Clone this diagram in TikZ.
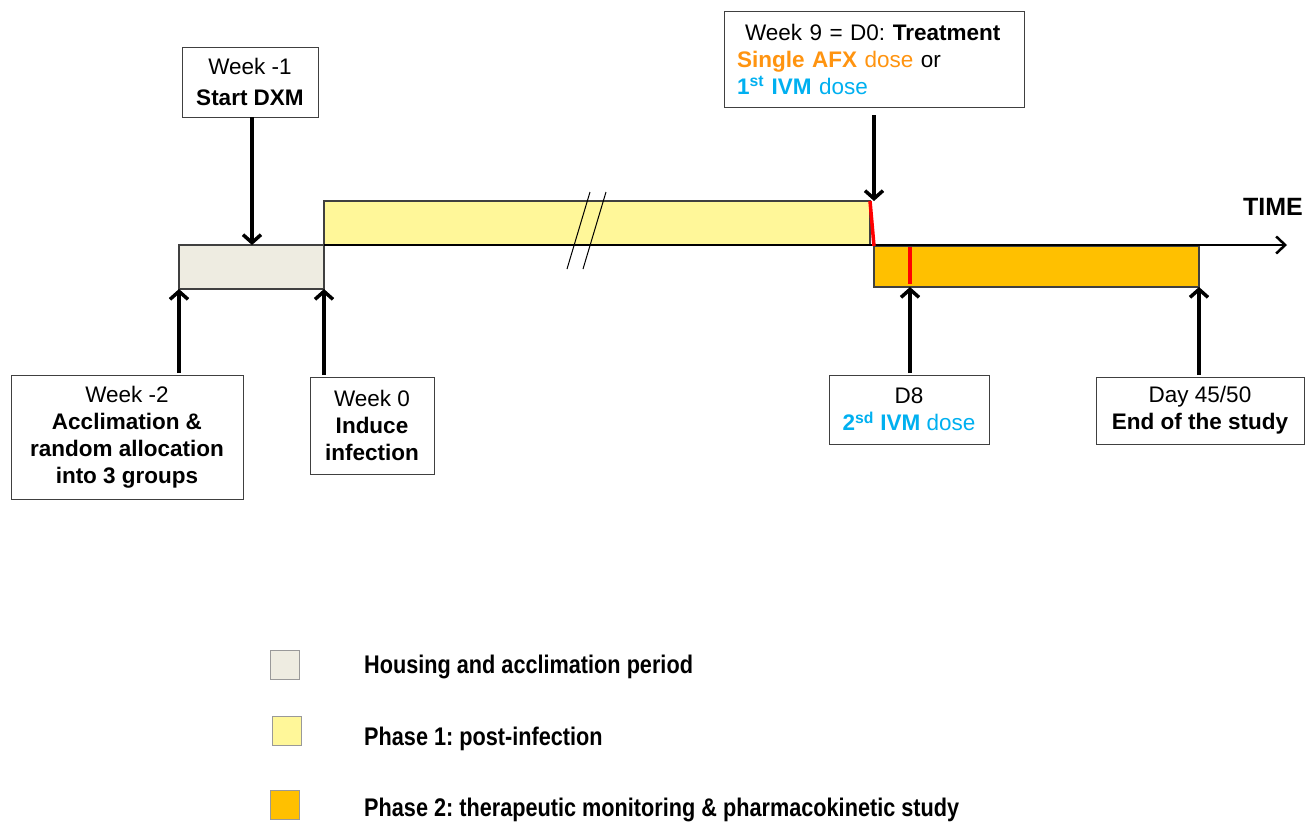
\documentclass[tikz,border=0pt]{standalone}
\usepackage{fontspec}
\setmainfont{Liberation Sans}
\newfontfamily\narrowfont[FakeStretch=0.85]{Liberation Sans}
\usetikzlibrary{arrows.meta}
\definecolor{grayfill}{HTML}{EEECE1}
\definecolor{yelfill}{HTML}{FFF799}
\definecolor{orgfill}{HTML}{FFC000}
\definecolor{orgtxt}{HTML}{FF9410}
\definecolor{bluetxt}{HTML}{00B0F0}
\definecolor{bordergray}{HTML}{404040}
\frenchspacing
\begin{document}
\begin{tikzpicture}[x=1pt,y=-1pt,
  box/.style={draw=bordergray, line width=1pt, fill=white, inner sep=0pt, outer sep=0pt, align=center, font=\frenchspacing\fontsize{22.5}{27}\selectfont},
  bar/.style={draw=bordergray, line width=1.2pt, inner sep=0pt, outer sep=0pt},
  arr/.style={line width=3.5pt, -{Straight Barb[length=8pt,width=18pt,line width=3.5pt]}},
  axisarr/.style={line width=2pt, -{Straight Barb[length=9pt,width=17pt,line width=2.5pt]}},
  redmark/.style={red, line width=3.5pt},
  legsq/.style={draw=gray!80, line width=1pt, minimum size=29pt, inner sep=0pt},
  legtxt/.style={anchor=west, inner sep=0pt, font=\frenchspacing\narrowfont\bfseries\fontsize{25.5}{30}\selectfont},
]
\useasboundingbox (0,0) rectangle (1312,825);

% period bars
\node[bar, fill=grayfill, minimum width=145pt, minimum height=44pt] (gray) at (251.5,267) {};
\node[bar, fill=yelfill, minimum width=546pt, minimum height=44pt] (yellow) at (597,223) {};
\node[bar, fill=orgfill, minimum width=325pt, minimum height=41pt] (orange) at (1036.5,266.5) {};

% time axis
\coordinate (axisend) at (1287,245);
\draw[axisarr] (yellow.south west) -- (axisend);
\node[font=\bfseries\fontsize{25}{30}\selectfont, inner sep=0pt] (time) at (1273,207) {TIME};

% break marks
\draw[line width=1pt] (590,192) -- (567,269);
\draw[line width=1pt] (606,192) -- (583,269);

% red marks
\draw[redmark] (yellow.north east) -- (orange.north west);
\coordinate (d8top) at (910,247);
\coordinate (d8bot) at (910,284);
\draw[redmark] (d8top) -- (d8bot);

% boxes
\node[box, minimum width=136pt, minimum height=70pt, font=\frenchspacing\fontsize{22.5}{31}\selectfont] (wk1) at (250,82) {Week -1\\\textbf{Start DXM}};
\node[box, minimum width=232pt, minimum height=124pt] (wk2) at (127,437) {Week -2\\\textbf{Acclimation \&}\\\textbf{random allocation}\\\textbf{into 3 groups}};
\node[box, minimum width=124pt, minimum height=97pt] (wk0) at (372,425.5) {Week 0\\\textbf{Induce}\\\textbf{infection}};
\node[box, minimum width=300pt, minimum height=96pt, text width=274pt, align=left] (wk9) at (874,59) {\hspace*{8pt}Week 9 = D0: \textbf{Treatment}\\\textcolor{orgtxt}{\textbf{Single AFX} dose} or\\\textcolor{bluetxt}{\textbf{1\textsuperscript{st} IVM} dose}};
\node[box, minimum width=160pt, minimum height=69pt] (d8) at (909,409.5) {D8\\\textcolor{bluetxt}{\textbf{2\textsuperscript{sd} IVM} dose}};
\node[box, minimum width=208pt, minimum height=67pt] (d45) at (1200,410.5) {Day 45/50\\\textbf{End of the study}};

% arrows
\draw[arr] ([xshift=2pt]wk1.south) -- ([xshift=2pt]wk1.south |- gray.north);
\draw[arr] ([yshift=2pt]wk2.north -| gray.south west) -- (gray.south west);
\draw[arr] ([yshift=2pt]wk0.north -| gray.south east) -- (gray.south east);
\draw[arr] ([yshift=-8pt]wk9.south) -- (wk9.south |- yellow.north);
\draw[arr] ([yshift=2pt]d8.north -| d8top) -- (d8top |- orange.south);
\draw[arr] ([yshift=2pt]d45.north -| orange.south east) -- (orange.south east);

% legend
\node[legsq, fill=grayfill] (lg1) at (285,664.5) {};
\node[legsq, fill=yelfill] (lg2) at (286.5,730.5) {};
\node[legsq, fill=orgfill] (lg3) at (285,805) {};
\node[legtxt] (lt1) at (364,667) {Housing and acclimation period};
\node[legtxt] (lt2) at (364,739) {Phase 1: post-infection};
\node[legtxt] (lt3) at (364,810) {Phase 2: therapeutic monitoring \& pharmacokinetic study};
\end{tikzpicture}
\end{document}
